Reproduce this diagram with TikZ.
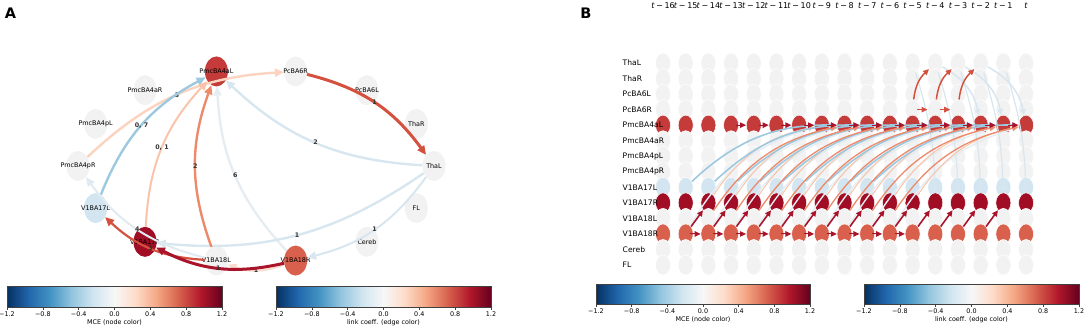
\documentclass[tikz,border=0pt]{standalone}
\usepackage{fontspec}
\setmainfont{DejaVu Sans}
\usetikzlibrary{shapes.geometric,arrows.meta}
\definecolor{ngray}{HTML}{F2F2F2}
\definecolor{redA}{HTML}{C43B3A}
\definecolor{dred}{HTML}{A00D24}
\definecolor{ored}{HTML}{D8604C}
\definecolor{lblue}{HTML}{D3E5F0}
\definecolor{cb0}{HTML}{053061}
\definecolor{cb1}{HTML}{2166AC}
\definecolor{cb2}{HTML}{4393C3}
\definecolor{cb3}{HTML}{92C5DE}
\definecolor{cb4}{HTML}{D1E5F0}
\definecolor{cb5}{HTML}{F7F7F7}
\definecolor{cb6}{HTML}{FDDBC7}
\definecolor{cb7}{HTML}{F4A582}
\definecolor{cb8}{HTML}{D6604D}
\definecolor{cb9}{HTML}{B2182B}
\definecolor{cb10}{HTML}{67001F}
\definecolor{eRed}{HTML}{D4513F}
\definecolor{eLBlue}{HTML}{D7E6EF}
\definecolor{ePeachL}{HTML}{FCD3BF}
\definecolor{eBlue}{HTML}{9DC9E0}
\definecolor{ePeach}{HTML}{F9C4AA}
\definecolor{eOrange}{HTML}{EC8A6B}
\definecolor{eVLight}{HTML}{E6EDF2}
\definecolor{eDRed}{HTML}{A9142B}
\definecolor{ePale}{HTML}{F8DDD0}
\definecolor{eGrayBlue}{HTML}{E0EAF0}

\newcommand\mycbar[6]{%
  \foreach \i/\j in {0/1,1/2,2/3,3/4,4/5,5/6,6/7,7/8,8/9,9/10}{%
    \shade[left color=cb\i,right color=cb\j] ({#1+(#3-#1)*\i/10},#2) rectangle ({#1+(#3-#1)*\j/10+0.4*(\j<10)},#4);
  }
  \draw[line width=0.4pt,black!75] (#1,#2) rectangle (#3,#4);
  \foreach \t/\l in {0/−1.2,1/−0.8,2/−0.4,3/0.0,4/0.4,5/0.8,6/1.2}{%
    \draw[line width=0.4pt,black!75] ({#1+(#3-#1)*\t/6},#4) -- ++(0,2.5);
    \node[cbt] (#6t\t) at ({#1+(#3-#1)*\t/6},{#4+4.5}) {\l};
  }
  \node[cbt] (#6lab) at ({(#1+#3)/2},{#4+12.5}) {#5};
}

\begin{document}
\begin{tikzpicture}[x=1pt,y=-1pt,
  anode/.style={ellipse,minimum width=23pt,minimum height=30pt,inner sep=0pt,fill=ngray,draw=none},
  alab/.style={font=\fontsize{6.4}{7}\selectfont,inner sep=0pt},
  aedge/.style={-{Triangle[length=9pt,width=8pt]},line width=2.4pt,bend left=20},
  elab/.style={font=\bfseries\fontsize{6.3}{6}\selectfont,text=black!80,inner sep=0.3pt},
  bnode/.style={ellipse,minimum width=15pt,minimum height=20pt,inner sep=0pt,fill=ngray,draw=white,line width=0.5pt},
  blab/.style={font=\fontsize{7.6}{8}\selectfont,inner sep=0pt,anchor=west},
  tlab/.style={font=\fontsize{8}{9}\selectfont,inner sep=0pt},
  bedge/.style={-{Triangle[length=6pt,width=5.5pt]},line width=1.4pt},
  panel/.style={font=\bfseries\fontsize{14.5}{15}\selectfont,inner sep=0pt},
  cbt/.style={font=\fontsize{6.4}{7}\selectfont,inner sep=0pt,anchor=north},
]
\useasboundingbox (0,0) rectangle (1084,327);

% ---------------- Panel A ----------------
\foreach \nm/\ang/\col in {ThaL/0/ngray, ThaR/25.714/ngray, PcBA6L/51.429/ngray, PcBA6R/77.143/ngray, PmcBA4aL/102.857/redA, PmcBA4aR/128.571/ngray, PmcBA4pL/154.286/ngray, PmcBA4pR/180/ngray, V1BA17L/205.714/lblue, V1BA17R/231.429/dred, V1BA18L/257.143/ngray, V1BA18R/282.857/ored, Cereb/308.571/ngray, FL/334.286/ngray}
  \node[anode,fill=\col,label={[alab]center:\nm}] (a\nm) at ({256+178*cos(\ang)},{166-97*sin(\ang)}) {};

\draw[aedge,eLBlue] (aThaL) to node[elab]{2} (aPmcBA4aL);
\draw[aedge,eVLight] (aV1BA18R) to node[elab]{6} (aPmcBA4aL);
\draw[aedge,eLBlue] (aThaL) to node[elab]{1} (aV1BA17R);
\draw[aedge,eLBlue,line width=2pt] (aThaL) to node[elab]{1} (aV1BA18R);
\draw[aedge,ePeachL] (aPmcBA4pR) to node[elab]{3} (aPcBA6R);
\draw[aedge,eBlue] (aV1BA17L) to node[elab]{0, 7} (aPmcBA4aL);
\draw[aedge,ePeach,line width=2pt] (aV1BA17R) to node[elab]{0, 1} (aPmcBA4aL);
\draw[aedge,eOrange] (aV1BA18L) to node[elab]{2} (aPmcBA4aL);
\draw[aedge,eGrayBlue,line width=2pt] (aV1BA18L) to node[elab]{4} (aPmcBA4pR);
\draw[aedge,ePale,line width=2pt] (aV1BA18R) to node[elab]{1} (aV1BA18L);
\draw[aedge,eRed,line width=2.2pt] (aV1BA18L) to node[elab]{3} (aV1BA17L);
\draw[aedge,eDRed,line width=3pt] (aV1BA18R) to node[elab]{1} (aV1BA17R);
\draw[aedge,eRed,line width=3pt] (aPcBA6R) to node[elab]{1} (aThaL);

% ---------------- Panel B ----------------
\foreach \r/\col in {0/ngray,1/ngray,2/ngray,3/ngray,4/redA,5/ngray,6/ngray,7/ngray,8/lblue,9/dred,10/ngray,11/ored,12/ngray,13/ngray}{
  \foreach \i in {0,...,16}{
    \node[bnode,fill=\col] (b\r-\i) at ({663+22.69*\i},{63+15.54*\r}) {};
  }
}

% light fan
\foreach \i [evaluate=\i as \j using int(\i+6)] in {1,...,10}
  \draw[bedge,eVLight,line width=1.4pt,bend left=22] (b11-\i) to (b4-\j);
\foreach \i [evaluate=\i as \j using int(\i+1)] in {11,...,15}
  \draw[bedge,eLBlue,line width=1.2pt,bend left=8] (b0-\i) to (b9-\j);
\foreach \i [evaluate=\i as \j using int(\i+2)] in {12,13,14}
  \draw[bedge,eLBlue,line width=1.5pt,bend left=25] (b0-\i) to (b4-\j);
\foreach \i [evaluate=\i as \j using int(\i+5)] in {2,...,11}
  \draw[bedge,ePeach,line width=1pt,bend left=22] (b9-\i) to (b4-\j);
\foreach \i [evaluate=\i as \j using int(\i+7)] in {1,...,9}
  \draw[bedge,eBlue,line width=1.6pt,bend left=22] (b8-\i) to (b4-\j);
\foreach \i [evaluate=\i as \j using int(\i+6)] in {2,...,10}
  \draw[bedge,eOrange,line width=1.3pt,bend left=22] (b10-\i) to (b4-\j);

% red lag arrows
\foreach \i [evaluate=\i as \j using int(\i+1)] in {11,12,13}
  \draw[bedge,eRed,line width=1.5pt,bend left=20] (b3-\i) to (b0-\j);
\foreach \i [evaluate=\i as \j using int(\i+1)] in {11,12}
  \draw[bedge,eRed,line width=1pt,shorten <=-3pt] (b3-\i) -- (b3-\j);
\foreach \i [evaluate=\i as \j using int(\i+1)] in {1,...,10}
  \draw[bedge,eDRed,line width=1pt,shorten <=-3pt] (b11-\i) -- (b11-\j);
\foreach \i [evaluate=\i as \j using int(\i+1)] in {3,...,15}
  \draw[bedge,eDRed,line width=1pt,shorten <=-3pt] (b4-\i) -- (b4-\j);
\foreach \i [evaluate=\i as \j using int(\i+1)] in {1,...,14}
  \draw[bedge,eDRed,line width=1.6pt] (b11-\i) -- (b9-\j);

% row labels
\foreach \r/\nm in {0/ThaL,1/ThaR,2/PcBA6L,3/PcBA6R,4/PmcBA4aL,5/PmcBA4aR,6/PmcBA4pL,7/PmcBA4pR,8/V1BA17L,9/V1BA17R,10/V1BA18L,11/V1BA18R,12/Cereb,13/FL}
  \node[blab] (bl\r) at (622.5,{63+15.54*\r}) {\nm};
% time labels
\foreach \i [evaluate=\i as \k using int(16-\i)] in {0,...,15}
  \node[tlab] (tl\i) at ({663+22.69*\i},6) {\textit{t}\hspace{1.6pt}−\hspace{1.6pt}\k};
\node[tlab] (tl16) at ({663+22.69*16},6) {\textit{t}};

% colorbars
\mycbar{7}{286}{222}{307}{MCE (node color)}{c1}
\mycbar{276}{286}{491}{307}{link coeff. (edge color)}{c2}
\mycbar{596}{284}{810}{304}{MCE (node color)}{c3}
\mycbar{864}{284}{1079}{304}{link coeff. (edge color)}{c4}

\node[panel] (pA) at (10.5,13) {A};
\node[panel] (pB) at (586,13) {B};
\end{tikzpicture}
\end{document}
